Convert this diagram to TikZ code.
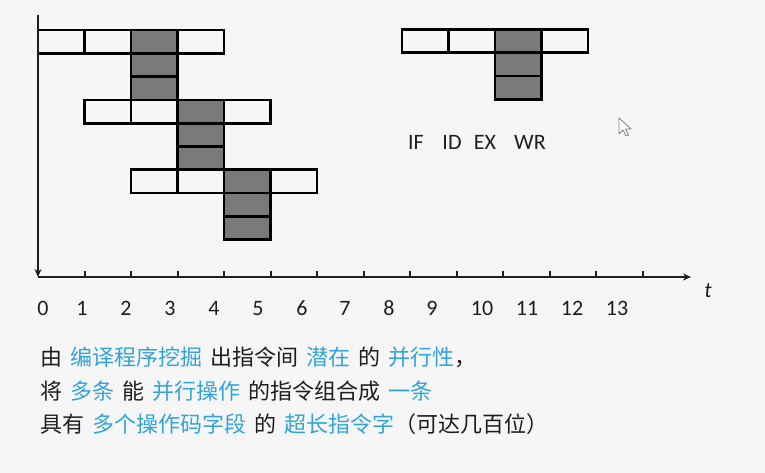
\documentclass[tikz,border=0pt]{standalone}
\usepackage{fontspec}
\setmainfont{Carlito}
\newfontfamily\cjk{Noto Sans CJK SC}
\usetikzlibrary{positioning, arrows.meta}

\definecolor{bgpaper}{RGB}{246,246,246}
\definecolor{cellgray}{RGB}{122,122,122}
\definecolor{hlblue}{RGB}{52,164,214}
\definecolor{inkblack}{RGB}{30,30,30}
\newcommand\wgap{\hspace{8pt}}

\begin{document}
\begin{tikzpicture}[x=1pt, y=-1pt,
    cell/.style={rectangle, draw=black, line width=2.7pt, minimum width=\cw pt, minimum height=\ch pt, inner sep=0pt, outer sep=0pt, anchor=north west},
    busy/.style={cell, fill=cellgray},
    axis/.style={line width=2.2pt, draw=inkblack, -{Stealth[length=8pt, width=7pt]}},
    tlabel/.style={font=\fontsize{22}{26}\selectfont, text=inkblack, inner sep=0pt, anchor=base},
    cjktext/.style={font=\cjk\fontsize{22}{26}\selectfont, text=inkblack, inner sep=0pt, anchor=base west}]

% ===== Define diagram parameters =====
\def\cw{46.5}      % width of one time step
\def\ch{23.3}      % height of one stage box
\def\xO{38}        % x-coordinate of the origin
\def\yT{30}        % y-coordinate of the first row
\def\yAxis{277}    % y-coordinate of the time axis

% background and picture size
\fill[bgpaper] (0,0) rectangle (765,473);
\useasboundingbox (0,0) rectangle (765,473);

% ===== Pipeline rows =====
\foreach \r in {0,1,2} {
    \pgfmathsetmacro\x{\xO+\r*\cw}    % row shifts one step right
    \pgfmathsetmacro\y{\yT+3*\r*\ch}  % and three boxes down
    \node[cell] (P\r-1) at (\x,\y) {};
    \node[cell, right=0pt of P\r-1] (P\r-2) {};
    \node[busy, right=0pt of P\r-2] (P\r-3) {};
    \node[cell, right=0pt of P\r-3] (P\r-4) {};
    % extra execution units under EX
    \node[busy, below=0pt of P\r-3] (P\r-3a) {};
    \node[busy, below=0pt of P\r-3a] (P\r-3b) {};
}

% ===== Legend row =====
\node[cell] (L-1) at (402,29.5) {};
\node[cell, right=0pt of L-1] (L-2) {};
\node[busy, right=0pt of L-2] (L-3) {};
\node[cell, right=0pt of L-3] (L-4) {};
\node[busy, below=0pt of L-3] (L-3a) {};
\node[busy, below=0pt of L-3a] (L-3b) {};

% stage names
\foreach \s/\x in {IF/416, ID/452, EX/485, WR/530} {
    \node[tlabel] (s\s) at (\x,150) {\s};
}

% mouse pointer
\draw[gray, fill=white, line width=0.8pt, line join=round]
    (619,118) -- ++(0,16) -- ++(4,-4) -- ++(3,6) -- ++(2.5,-1) -- ++(-3,-6) -- ++(5.5,0) -- cycle;

% ===== Axes =====
\coordinate (yTop) at (\xO,15);
\coordinate (O) at (\xO,\yAxis);
\coordinate (xEnd) at (691,\yAxis);
\draw[axis] (yTop) -- (O);
\draw[axis] (O) -- (xEnd);

% ticks
\foreach \i in {1,...,13} {
    \draw[line width=2pt, inkblack] (\xO+\i*\cw,\yAxis) -- ++(0,-6);
}

% tick labels
\foreach \n/\x in {0/43, 1/82, 2/126, 3/170, 4/214, 5/258, 6/302, 7/345, 8/389, 9/432, 10/482, 11/527, 12/572, 13/617} {
    \node[tlabel] (n\n) at (\x,315) {\n};
}
\node[tlabel, font=\fontsize{22}{26}\selectfont\itshape] (tLab) at (708,297) {t};

% ===== Caption =====
\node[cjktext] (line1) at (40,365) {由\wgap\textcolor{hlblue}{编译程序挖掘}\wgap 出指令间\wgap\textcolor{hlblue}{潜在}\wgap 的\wgap\textcolor{hlblue}{并行性}，};
\node[cjktext] (line2) at (40,399) {将\wgap\textcolor{hlblue}{多条}\wgap 能\wgap\textcolor{hlblue}{并行操作}\wgap 的指令组合成\wgap\textcolor{hlblue}{一条}};
\node[cjktext] (line3) at (40,432) {具有\wgap\textcolor{hlblue}{多个操作码字段}\wgap 的\wgap\textcolor{hlblue}{超长指令字}（可达几百位）};

\end{tikzpicture}
\end{document}
